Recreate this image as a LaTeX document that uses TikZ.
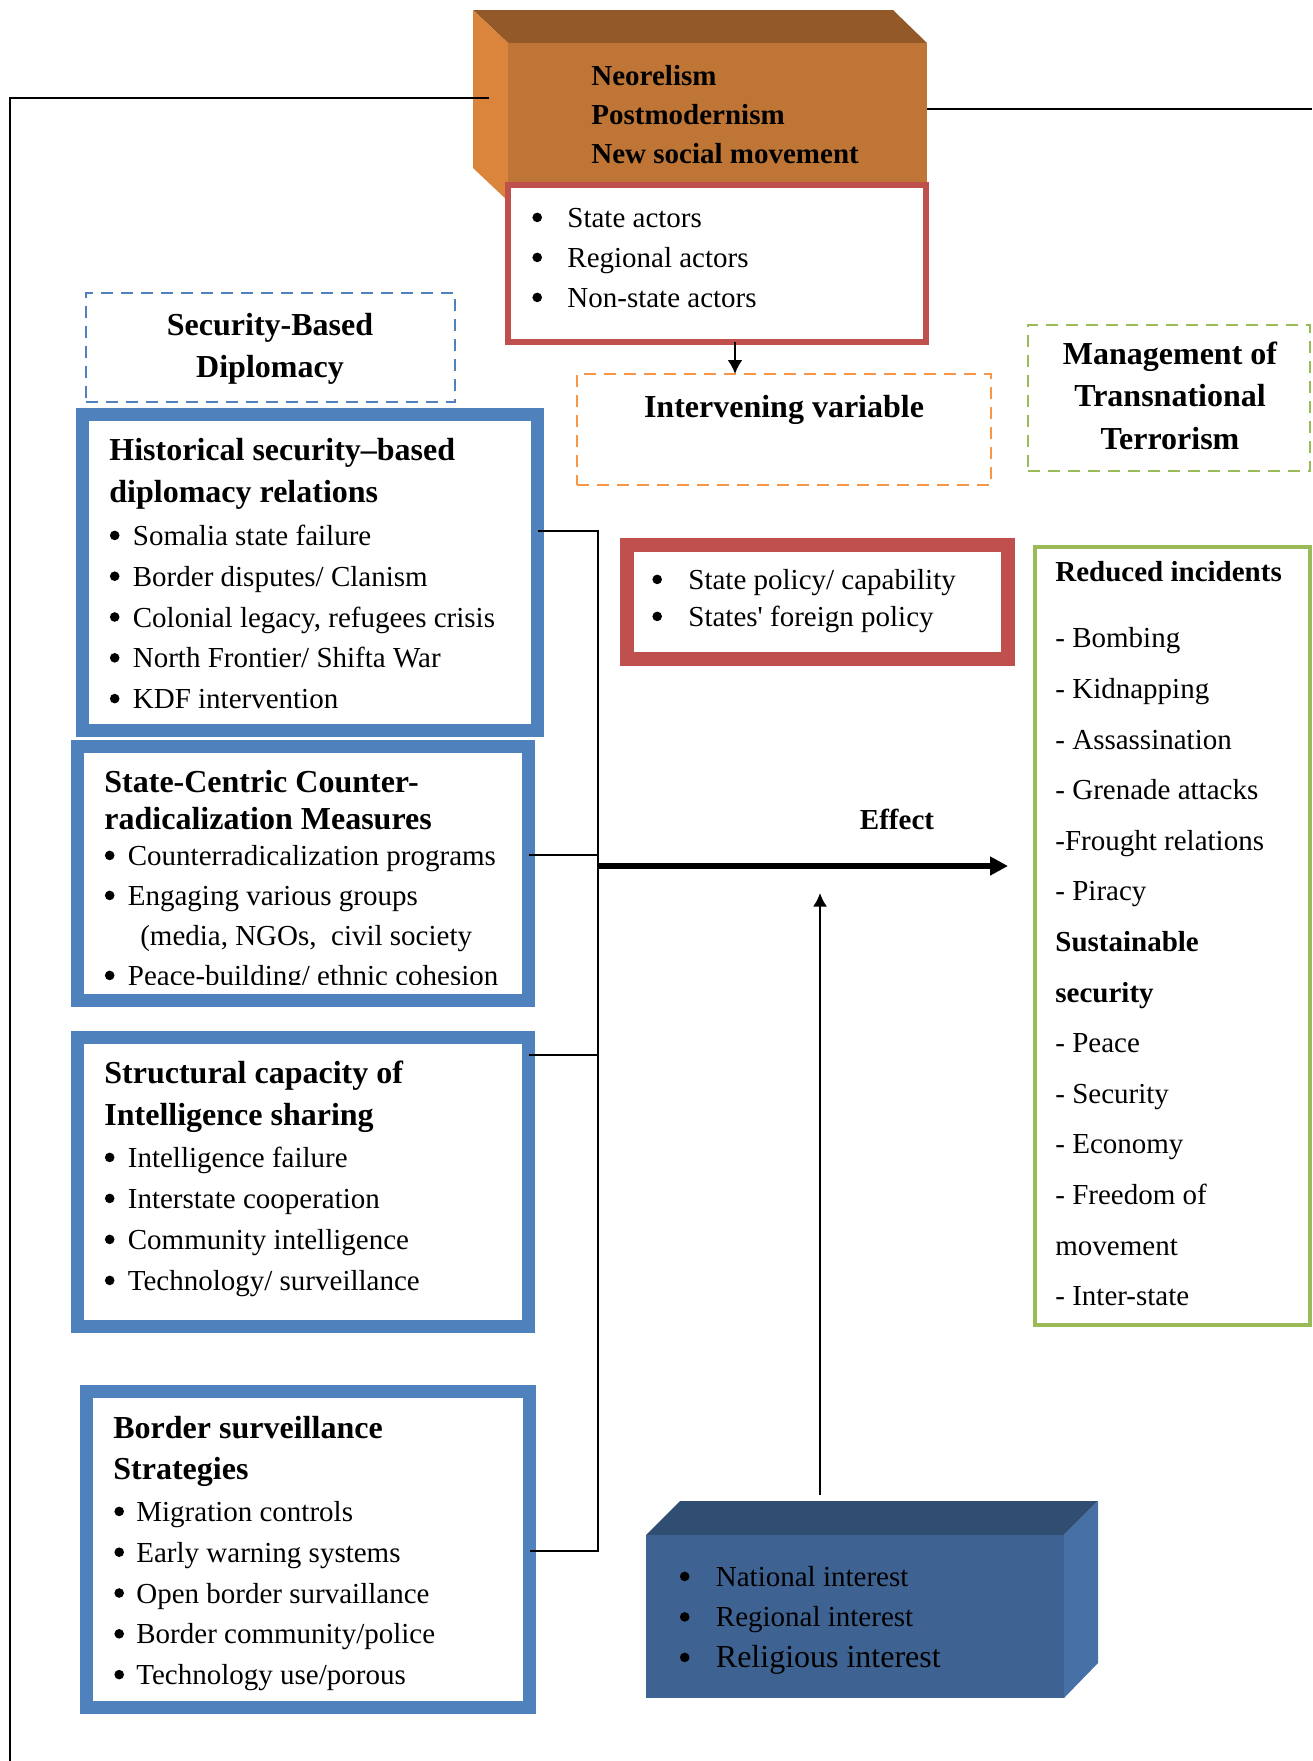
\documentclass[tikz,border=0pt]{standalone}
\usepackage{fontspec}
\setmainfont{Liberation Serif}
\usetikzlibrary{arrows.meta}

\definecolor{orFront}{HTML}{BE7536}
\definecolor{orTop}{HTML}{935928}
\definecolor{orSide}{HTML}{DA843C}
\definecolor{redBox}{HTML}{C0504D}
\definecolor{blueBox}{HTML}{4F81BD}
\definecolor{greenBox}{HTML}{9BBB59}
\definecolor{orDash}{HTML}{F79646}
\definecolor{ifFront}{HTML}{3E6291}
\definecolor{ifTop}{HTML}{2F4E72}
\definecolor{ifSide}{HTML}{4670A6}

\newcommand{\fs}{\rule{0pt}{12pt}}
\newcommand{\bl}[1][11.5pt]{\makebox[#1][l]{\tikz[baseline=-5pt]\fill (2.4pt,0pt) circle (2.4pt);}}

\tikzset{
    txt/.style={inner sep=0pt, anchor=north west, align=left, font=\fontsize{14.5pt}{#1}\selectfont},
    txt/.default=20.5pt,
    btxt/.style={txt=#1, font=\bfseries\fontsize{14.5pt}{#1}\selectfont},
    btxt/.default=20.5pt,
    ttl/.style={txt=#1, font=\bfseries\fontsize{16pt}{#1}\selectfont},
    ttl/.default=21pt,
    box/.style={outer sep=0pt, fill=white, inner sep=0pt},
    bluebox/.style={box, draw=blueBox, line width=6.5pt},
    dashbox/.style={box, fill=none, line width=1pt, dash pattern=on 6pt off 4pt},
    link/.style={line width=1pt},
}

\begin{document}
\begin{tikzpicture}[x=0.5pt,y=-0.5pt]
    \useasboundingbox (0,0) rectangle (1312,1761);

    %Rahmenlinien
    \coordinate (fL)  at (489,98);
    \coordinate (fLc) at (10,98);
    \coordinate (fLb) at (10,1761);
    \coordinate (fR)  at (927,109);
    \coordinate (fRe) at (1312,109);

    %Theorie-Block
    \fill[orTop] (473,10) -- (893,10) -- (927,43) -- (508,43) -- cycle;
    \fill[orSide] (473,10) -- (508,43) -- (508,201) -- (473,168) -- cycle;
    \fill[orFront] (508,43) rectangle (927,201);
    \node[btxt=19.5pt] (theory) at (591,61) {\fs Neorelism\\Postmodernism\\New social movement};
    \draw[link] (fL) -- (fLc) -- (fLb);
    \draw[link] (fR) -- (fRe);

    %Akteure
    \node[box, draw=redBox, line width=3pt, minimum width=209pt, minimum height=78.5pt] (actors) at (716.5,263) {};
    \node[txt=20pt] (actorsTxt) at (532,203) {\fs\bl[17.5pt]State actors\\\bl[17.5pt]Regional actors\\\bl[17.5pt]Non-state actors};

    %gestrichelte Boxen
    \node[dashbox, draw=blueBox, minimum width=184.5pt, minimum height=54.5pt] (sbd) at (270.5,347.5) {};
    \node[ttl, anchor=north, align=center] (sbdTxt) at (270,311) {\fs Security-Based\\Diplomacy};

    \node[dashbox, draw=orDash, minimum width=207pt, minimum height=55.5pt] (interv) at (784,429.5) {};
    \node[ttl, anchor=base] (intervTxt) at (784,417) {Intervening variable};

    \node[dashbox, draw=greenBox, minimum width=141pt, minimum height=73pt] (mtt) at (1169,398) {};
    \node[ttl=21.25pt, anchor=north, align=center] (mttTxt) at (1170,340) {\fs Management of\\Transnational\\Terrorism};

    \draw[link, -{Latex[length=7pt,width=7.5pt]}] ([xshift=9.25pt]actors.south) -- ([xshift=9.25pt]actors.south |- interv.north);

    %Blaue Boxen
    \node[bluebox, minimum width=227.5pt, minimum height=158pt] (hist) at (310,572.5) {};
    \node[ttl] (histTtl) at (109,436) {\fs Historical security--based\\diplomacy relations};
    \node[txt=20.4pt] (histTxt) at (109.5,521) {\fs\bl Somalia state failure\\\bl Border disputes/ Clanism\\\bl Colonial legacy, refugees crisis\\\bl North Frontier/ Shifta War\\\bl KDF intervention};

    \node[bluebox, minimum width=225.5pt, minimum height=127pt] (state) at (303,873.5) {};
    \node[ttl=18.5pt] (stateTtl) at (104,768) {\fs State-Centric Counter-\\radicalization Measures};
    \begin{scope}
        \clip (84,753) rectangle (522,984);
        \node[txt=20pt] (stateTxt) at (104.5,841) {\fs\bl Counterradicalization programs\\\bl Engaging various groups\\\hspace*{17.7pt}(media, NGOs,\ \ civil society\\\bl Peace-building/ ethnic cohesion};
    \end{scope}

    \node[bluebox, minimum width=225.5pt, minimum height=144.5pt] (struct) at (303,1182) {};
    \node[ttl] (structTtl) at (104,1059) {\fs Structural capacity of\\Intelligence sharing};
    \node[txt=20.5pt] (structTxt) at (104.5,1143) {\fs\bl Intelligence failure\\\bl Interstate cooperation\\\bl Community intelligence\\\bl Technology/ surveillance};

    \node[bluebox, minimum width=221.5pt, minimum height=158pt] (border) at (308,1549.5) {};
    \node[ttl=20.5pt] (borderTtl) at (113,1414) {\fs Border surveillance\\Strategies};
    \node[txt=20.4pt] (borderTxt) at (114,1497) {\fs\bl[11pt]Migration controls\\\bl[11pt]Early warning systems\\\bl[11pt]Open border survaillance\\\bl[11pt]Border community/police\\\bl[11pt]Technology use/porous};

    %Verbindungen
    \coordinate (jHist)   at (598,531);
    \coordinate (jState)  at (598,855);
    \coordinate (jStruct) at (598,1055);
    \coordinate (jBorder) at (598,1551);
    \coordinate (jEffect) at (598,866);
    \coordinate (effTip)  at (1008,866);
    \draw[link] (hist.east |- jHist) -- (jHist) -- (jBorder) -- (border.east |- jBorder);
    \draw[link] (state.east |- jState) -- (jState);
    \draw[link] (struct.east |- jStruct) -- (jStruct);

    %Effekt
    \draw[line width=3.25pt, -{Triangle[length=9pt,width=9pt]}] (jEffect) -- (effTip);
    \node[btxt, anchor=base] (effect) at (897,829) {Effect};

    %Staatspolitik
    \node[box, draw=redBox, line width=6.75pt, minimum width=190.5pt, minimum height=57pt] (policy) at (817.5,602) {};
    \node[txt=18.5pt] (policyTxt) at (652,565) {\fs\bl[18pt]State policy/ capability\\\bl[18pt]States\textquotesingle{} foreign policy};

    %Ergebnis
    \node[box, draw=greenBox, line width=2pt, minimum width=137.5pt, minimum height=389pt] (outcome) at (1172.5,936) {};
    \node[txt=25.3pt] (outcomeTxt) at (1055,557) {\fs\textbf{Reduced incidents}\\[7.9pt]- Bombing\\- Kidnapping\\- Assassination\\- Grenade attacks\\-Frought relations\\- Piracy\\\textbf{Sustainable}\\\textbf{security}\\- Peace\\- Security\\- Economy\\- Freedom of\\movement\\- Inter-state};

    %Interessen-Block
    \fill[ifTop] (646,1535) -- (680,1501) -- (1098,1501) -- (1064,1535) -- cycle;
    \fill[ifSide] (1064,1535) -- (1098,1501) -- (1098,1663) -- (1064,1698) -- cycle;
    \fill[ifFront] (646,1535) rectangle (1064,1698);
    \node[txt=20.25pt] (interests) at (679.5,1562) {\fs\bl[18pt]National interest\\\bl[18pt]Regional interest\\\bl[18pt]{\fontsize{16pt}{20.25pt}\selectfont Religious interest}};

    \coordinate (upBase) at (820,1495);
    \coordinate (upTip)  at (820,893);
    \draw[link, -{Latex[length=6.75pt,width=7pt]}] (upBase) -- (upTip);

\end{tikzpicture}
\end{document}
